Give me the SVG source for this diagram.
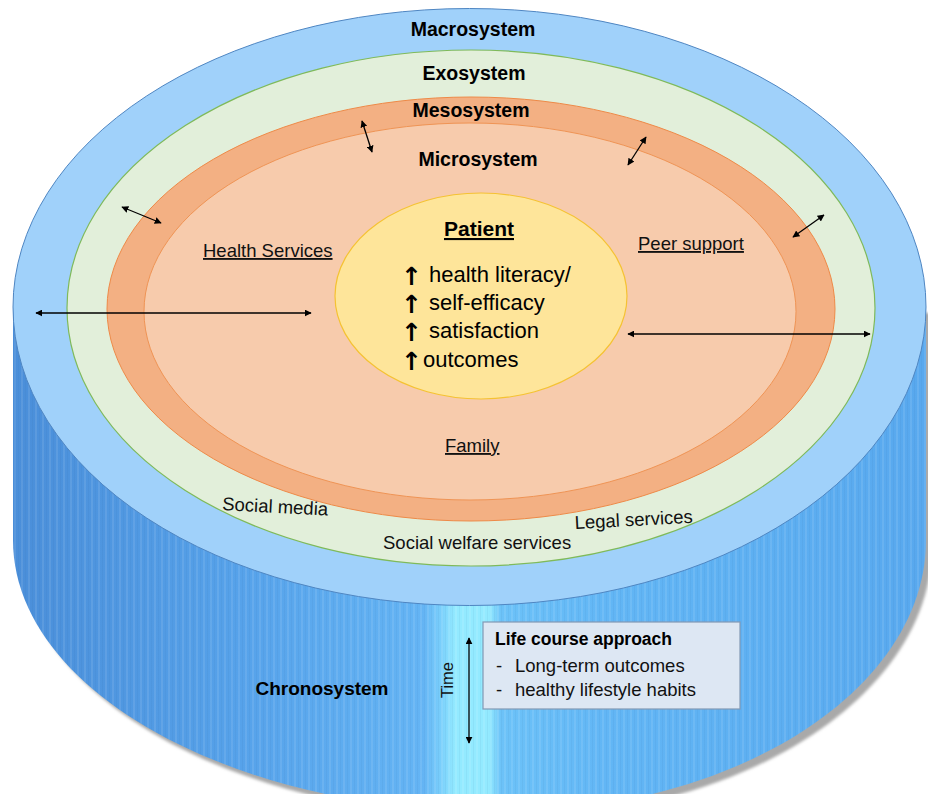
<svg xmlns="http://www.w3.org/2000/svg" width="928" height="794" viewBox="0 0 928 794">
<defs>
<style>
.h{font-family:"Liberation Sans",Arial,sans-serif;font-weight:bold;font-size:19.5px;fill:#000;text-anchor:middle}
.t{font-family:"Liberation Sans",Arial,sans-serif;font-size:18.5px;fill:#111}
.u{text-decoration:underline}
.p{font-family:"Liberation Sans",Arial,sans-serif;font-size:22px;fill:#000}
.ar{font-family:"DejaVu Sans",sans-serif;font-weight:bold;font-size:25px;fill:#000}
.c{stroke:#000;stroke-width:1.3;fill:none;marker-start:url(#ah);marker-end:url(#ah)}
</style>
<marker id="ah" viewBox="0 0 10 10" refX="9" refY="5" markerWidth="7" markerHeight="7" markerUnits="userSpaceOnUse" orient="auto-start-reverse">
<path d="M0,0 L10,5 L0,10 Z" fill="#000"/>
</marker>
<linearGradient id="side" gradientUnits="userSpaceOnUse" x1="13" y1="0" x2="925" y2="0">
<stop offset="0" stop-color="#4a8ed9"/>
<stop offset="0.25" stop-color="#56a2ea"/>
<stop offset="0.45" stop-color="#64b4f4"/>
<stop offset="0.468" stop-color="#78cdfb"/>
<stop offset="0.485" stop-color="#93eaff"/>
<stop offset="0.522" stop-color="#93eaff"/>
<stop offset="0.535" stop-color="#6cc2f8"/>
<stop offset="0.65" stop-color="#62b6f5"/>
<stop offset="1" stop-color="#58a8ee"/>
</linearGradient>
<pattern id="stripes" patternUnits="userSpaceOnUse" width="7" height="10">
<rect x="0" y="0" width="2" height="10" fill="#ffffff" opacity="0.09"/>
<rect x="4" y="0" width="1" height="10" fill="#1a4f8a" opacity="0.06"/>
</pattern>
<filter id="blur" x="-5%" y="-5%" width="110%" height="110%"><feGaussianBlur stdDeviation="1.5"/></filter>
</defs>

<g id="cylinder">
<path d="M19,313 L19,546 C19,696 237,818 506,818 C741,818 932,696 932,546 L932,313 Z" fill="#a9a9a9" filter="url(#blur)"/>
<path d="M13,307 L13,540 C13,690 231,812 500,812 C735,812 926,690 926,540 L926,307 Z" fill="url(#side)"/>
<path d="M13,307 L13,540 C13,690 231,812 500,812 C735,812 926,690 926,540 L926,307 Z" fill="url(#stripes)"/>
</g>

<g id="macrosystem">
<ellipse cx="469.5" cy="307" rx="456.5" ry="298.5" fill="#a0d1fa" stroke="#4f86c2" stroke-width="1"/>
<text class="h" x="473" y="36">Macrosystem</text>
</g>
<g id="exosystem">
<ellipse cx="471" cy="308" rx="404" ry="258" fill="#e2efda" stroke="#7fba5a" stroke-width="1.2"/>
<text class="h" x="474" y="80">Exosystem</text>
</g>
<g id="mesosystem">
<ellipse cx="471" cy="309" rx="364" ry="212" fill="#f3b083" stroke="#ee8a48" stroke-width="1"/>
<text class="h" x="471" y="117">Mesosystem</text>
</g>
<g id="microsystem">
<ellipse cx="470" cy="311.5" rx="326" ry="188.5" fill="#f7cbac" stroke="#ef9455" stroke-width="1"/>
<text class="h" x="478" y="166">Microsystem</text>
</g>
<g id="patient">
<ellipse cx="481" cy="296" rx="146" ry="103" fill="#fee59a" stroke="#f5c233" stroke-width="1.2"/>
<text class="h u" x="479" y="236" style="font-size:21px">Patient</text>
<text class="ar" x="401" y="285">↑</text><text class="p" x="429" y="282">health literacy/</text>
<text class="ar" x="401" y="313">↑</text><text class="p" x="429" y="310">self-efficacy</text>
<text class="ar" x="401" y="341">↑</text><text class="p" x="429" y="338">satisfaction</text>
<text class="ar" x="401" y="370">↑</text><text class="p" x="423" y="367">outcomes</text>
</g>

<g id="labels">
<text class="t u" x="203" y="257">Health Services</text>
<text class="t u" x="638" y="250">Peer support</text>
<text class="t u" x="445" y="452">Family</text>
<text class="t" x="222" y="510" transform="rotate(3 222 510)">Social media</text>
<text class="t" x="575" y="529" transform="rotate(-3 575 529)">Legal services</text>
<text class="t" x="383" y="549">Social welfare services</text>
</g>

<g id="chronosystem">
<text class="h" x="322" y="695" style="font-size:19px">Chronosystem</text>
<text class="t" x="0" y="0" transform="translate(453 680) rotate(-90)" style="font-size:16.5px;text-anchor:middle">Time</text>
</g>

<g id="lifecourse">
<rect x="483" y="622" width="257" height="87" fill="#dde7f3" stroke="#8399b5" stroke-width="1.2"/>
<text class="t" x="495" y="645" style="font-weight:bold;font-size:17.5px;fill:#000">Life course approach</text>
<text class="t" x="496" y="672">-</text><text class="t" x="515" y="672">Long-term outcomes</text>
<text class="t" x="496" y="696">-</text><text class="t" x="515" y="696">healthy lifestyle habits</text>
</g>

<g id="connectors">
<line class="c" x1="36" y1="313" x2="311" y2="313"/>
<line class="c" x1="628" y1="334" x2="870" y2="334"/>
<line class="c" x1="362" y1="121" x2="372" y2="152"/>
<line class="c" x1="646" y1="137" x2="628" y2="165"/>
<line class="c" x1="122" y1="207" x2="161" y2="223"/>
<line class="c" x1="824" y1="215" x2="793" y2="237"/>
<line class="c" x1="469" y1="638" x2="469" y2="743"/>
</g>
</svg>
